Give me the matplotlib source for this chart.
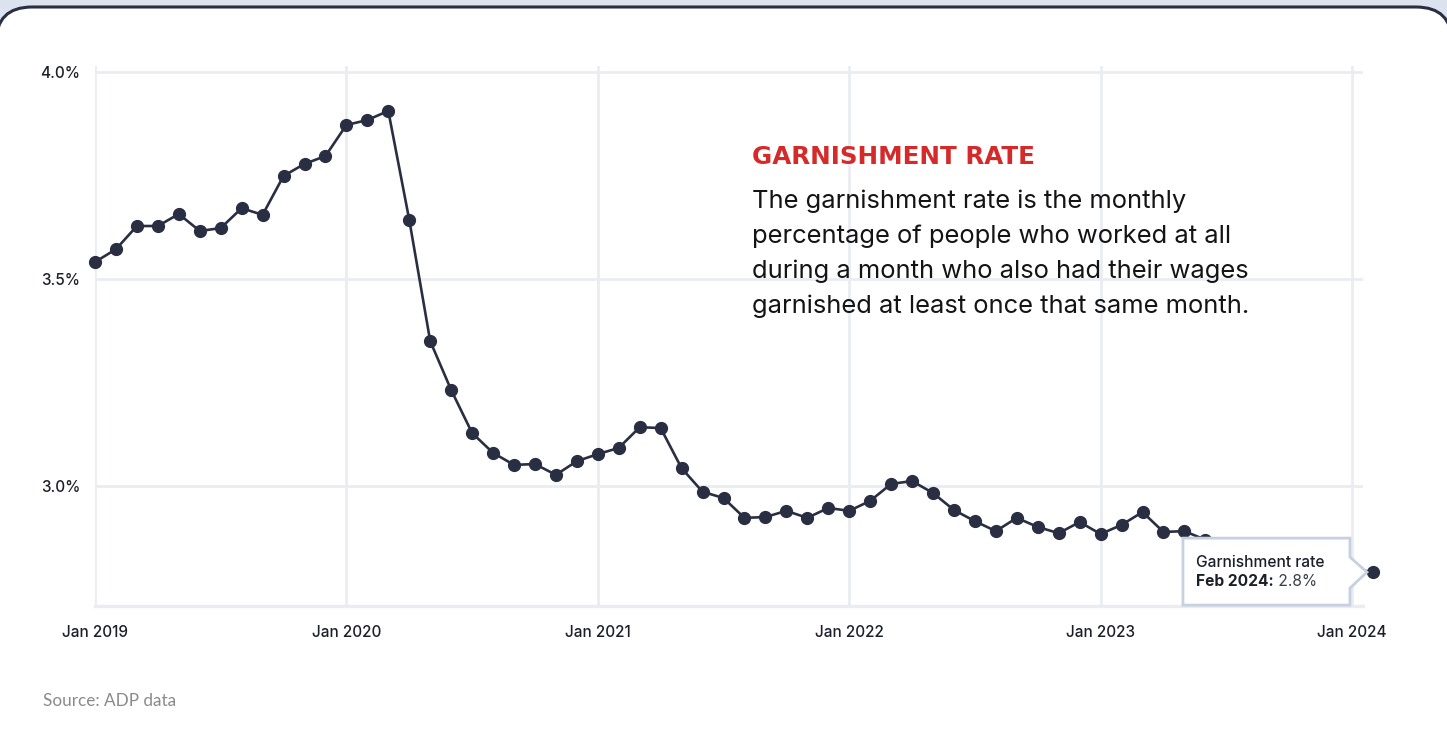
import matplotlib
matplotlib.use("Agg")
import matplotlib.pyplot as plt
import matplotlib.transforms as mtransforms
from matplotlib.patches import FancyBboxPatch, Polygon
import numpy as np

# ---- data (monthly garnishment rate, %), Jan 2019 .. Feb 2024 ----
rate = [
    3.541, 3.572, 3.628, 3.628, 3.657, 3.616, 3.623, 3.671, 3.655, 3.749, 3.778, 3.797,  # 2019
    3.872, 3.884, 3.906, 3.643, 3.350, 3.232, 3.128, 3.080, 3.051, 3.053, 3.027, 3.060,  # 2020
    3.077, 3.092, 3.142, 3.140, 3.043, 2.986, 2.971, 2.923, 2.925, 2.940, 2.923, 2.947,  # 2021
    2.940, 2.964, 3.005, 3.012, 2.983, 2.942, 2.915, 2.891, 2.923, 2.901, 2.886, 2.913,  # 2022
    2.884, 2.906, 2.937, 2.889, 2.891, 2.870, 2.850, 2.840, 2.830, 2.820, 2.815, 2.805,  # 2023
    2.800, 2.792,                                                                        # 2024
]
xtick_pos = [0, 12, 24, 36, 48, 60]
xtick_labels = ["Jan 2019", "Jan 2020", "Jan 2021", "Jan 2022", "Jan 2023", "Jan 2024"]
ytick_vals = [3.0, 3.5, 4.0]
ytick_labels = ["3.0%", "3.5%", "4.0%"]

title = "GARNISHMENT RATE"
body_lines = [
    "The garnishment rate is the monthly",
    "percentage of people who worked at all",
    "during a month who also had their wages",
    "garnished at least once that same month.",
]
source = "Source: ADP data"
tip_title = "Garnishment rate"
tip_label = "Feb 2024:"
tip_value = "2.8%"

W, H = 1447, 744
DPI = 100
LINE = "#2a2e42"
GRID = "#ebecf2"
TXT = "#1c1e2a"
FONT = ["Inter", "DejaVu Sans"]

fig = plt.figure(figsize=(W / DPI, H / DPI), dpi=DPI, facecolor="#dde3ee")

# card
card = FancyBboxPatch((-0.04, -0.4), 14.56, (H - 7) / DPI + 0.4,
                      boxstyle="round,pad=0,rounding_size=0.36",
                      transform=fig.dpi_scale_trans, facecolor="white",
                      edgecolor=LINE, linewidth=2.2, zorder=-10)
fig.patches.append(card)

def fx(px):
    return px / W

def fy(py):
    return 1 - py / H

left, right, top, bottom = 95, 1363, 66, 606
y4_px, px_per_half = 72, 207.0
ax = fig.add_axes([fx(left), fy(bottom), fx(right) - fx(left), fy(top) - fy(bottom)], zorder=1)
ax.set_facecolor("none")

x = np.arange(len(rate))
px_per_month = (1352 - 95) / 60
ax.set_xlim(0, (right - left) / px_per_month)
ax.set_ylim(4.0 - (bottom - y4_px) / px_per_half * 0.5, 4.0 + (y4_px - top) / px_per_half * 0.5)

for s in ax.spines.values():
    s.set_visible(False)
ax.axhline(ax.get_ylim()[0], color=GRID, lw=2.4, zorder=1, clip_on=False)
for yv in ytick_vals:
    ax.axhline(yv, color=GRID, lw=2, zorder=1)
for xv in xtick_pos:
    ax.axvline(xv, color=GRID, lw=2, zorder=1)

ax.set_xticks(xtick_pos)
ax.set_xticklabels(xtick_labels)
ax.set_yticks(ytick_vals)
ax.set_yticklabels(ytick_labels)
ax.tick_params(axis="both", length=0, labelsize=11, labelcolor=TXT)
ax.tick_params(axis="x", pad=14)
ax.tick_params(axis="y", pad=10.5)
for lab in ax.get_xticklabels() + ax.get_yticklabels():
    lab.set_family(FONT)
    lab.set_fontweight("medium")

ax.plot(x, rate, color=LINE, lw=1.9, marker="o", markersize=8.5, zorder=3, clip_on=False)

# tooltip anchored to the last point
offs = fig.dpi_scale_trans + mtransforms.ScaledTranslation(x[-1], rate[-1], ax.transData)
tip = Polygon([(-1.90, 0.34), (-0.23, 0.34), (-0.23, 0.15), (-0.06, 0.0),
               (-0.23, -0.16), (-0.23, -0.33), (-1.90, -0.33)],
              closed=True, transform=offs, facecolor="white", edgecolor="#c6d0e0",
              linewidth=2, zorder=4, clip_on=False)
ax.add_patch(tip)
ax.text(-1.77, 0.10, tip_title, transform=offs, fontsize=11.2, color=TXT, family=FONT,
        fontweight="medium", va="center", ha="left", zorder=5)
t1 = ax.text(-1.77, -0.09, tip_label, transform=offs, fontsize=11.2, color=TXT, family=FONT,
             fontweight="bold", va="center", ha="left", zorder=5)
ax.annotate(" " + tip_value, xy=(1, 0.5), xycoords=t1, fontsize=11.2, color="#3a3d4a",
            family=FONT, va="center", ha="left", zorder=5)

# title and body text
fig.text(fx(752), fy(164), title, color="#d42a2a", fontsize=17.7, fontweight="bold",
         family=["DejaVu Sans"], va="baseline", ha="left")
for i, line in enumerate(body_lines):
    fig.text(fx(752), fy(208 + 35 * i), line, color="#141414", fontsize=18.4,
             family=FONT, va="baseline", ha="left")

fig.text(fx(43), fy(706), source, color="#8a8a8a", fontsize=12.3,
         family=["Lato", "DejaVu Sans"], va="baseline", ha="left")

fig.savefig("out.png", dpi=DPI, facecolor=fig.get_facecolor())
